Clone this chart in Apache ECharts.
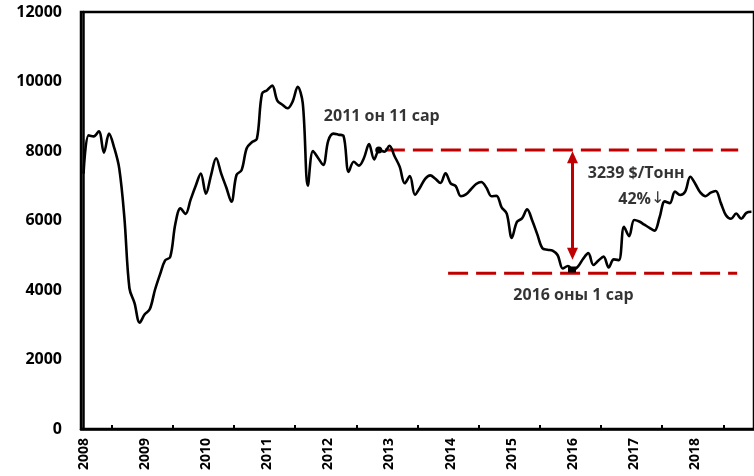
<!DOCTYPE html>
<html><head><meta charset="utf-8">
<script src="https://cdn.jsdelivr.net/npm/echarts@6/dist/echarts.min.js"></script>
<style>html,body{margin:0;padding:0;background:#fff}#c{width:754px;height:476px}</style>
</head><body><div id="c"></div>
<script>
// ---- data ----
const years = [2008, 2009, 2010, 2011, 2012, 2013, 2014, 2015, 2016, 2017, 2018];
const months = ['01','02','03','04','05','06','07','08','09','10','11','12'];
// monthly price, $/ton, Jan 2008 .. Dec 2018
const prices = [
  7350, 8450, 8420, 8570, 7950, 8500, 8100, 7500, 6100, 4050, 3620, 3060,
  3300, 3450, 4000, 4450, 4850, 4950, 5900, 6350, 6190, 6600, 7000, 7350,
  6770, 7300, 7790, 7350, 6950, 6540, 7310, 7450, 8080, 8250, 8350, 9650,
  9750, 9880, 9450, 9330, 9230, 9420, 9850, 9370, 7000, 8000, 7800, 7600,
  8300, 8500, 8470, 8430, 7400, 7690, 7580, 7800, 8200, 7760, 8030, 7980,
  8150, 7850, 7550, 7070, 7280, 6740, 6950, 7200, 7300, 7200, 7080, 7360,
  7070, 6990, 6700, 6750, 6900, 7050, 7110, 6950, 6700, 6710, 6380, 6200,
  5500, 5960, 6060, 6320, 6000, 5600, 5200, 5160, 5130, 5000, 4620, 4690,
  4580, 4680, 4900, 5060, 4720, 4850, 4960, 4650, 4880, 4860, 5820, 5550,
  6015, 5970, 5880, 5790, 5710, 6100, 6550, 6500, 6830, 6735, 6830, 7260,
  7050, 6800, 6700, 6800, 6850, 6500, 6150, 6050, 6200, 6050, 6220, 6250
];
const yTicks = [0, 2000, 4000, 6000, 8000, 10000, 12000];

// annotations (x in month index, y in $/ton)
const upperLevel = 8030;
const lowerLevel = 4480;
const upperSpan = [59.1, 128.4];
const lowerSpan = [71.5, 128.2];
const arrowX = 95.9;
const arrowEnds = [7820, 5040];
const dotPoint = [57.9, 8030];
const lowPoint = [95.8, 4590];
const textLabels = ['2011 он 11 сар', '3239 $/Тонн', '42%{a|↓}', '2016 оны 1 сар'];
const textPos = [[58.5, 9008], [108.4, 7368], [109.4, 6619], [96.1, 3857]];

const categories = [];
years.forEach(y => months.forEach(m => categories.push(y + '-' + m)));

const FONT = '"Open Sans", Lato, sans-serif';
const RED = '#C00000';
const W = 'bold';

const chart = echarts.init(document.getElementById('c'));
chart.setOption({
  animation: false,
  backgroundColor: '#fff',
  grid: { left: 81, top: 12, width: 680, height: 417, show: true, borderColor: '#000', borderWidth: 2.5, containLabel: false },
  xAxis: [
    {
      type: 'category', data: categories, boundaryGap: true,
      axisLine: { lineStyle: { color: '#000', width: 2.5 } },
      axisTick: { show: true, inside: true, length: 4, lineStyle: { color: '#000', width: 2 }, interval: (i) => i % 12 === 6 },
      axisLabel: {
        interval: (i) => i % 12 === 0, rotate: 90, margin: 9,
        formatter: (v) => v.slice(0, 4),
        fontFamily: FONT, fontWeight: W, fontSize: 14, color: '#000'
      },
      splitLine: { show: false }
    },
    { type: 'value', min: -0.5, max: 131.5, show: false }
  ],
  yAxis: {
    type: 'value', min: yTicks[0], max: yTicks[yTicks.length - 1], interval: 2000,
    axisLine: { show: true, lineStyle: { color: '#000', width: 2.5 } },
    axisTick: { show: false },
    splitLine: { show: false },
    axisLabel: { margin: 19, fontFamily: FONT, fontWeight: W, fontSize: 16, color: '#000', formatter: (v) => String(v) }
  },
  series: [
    {
      type: 'line', data: prices, smooth: 0.35, showSymbol: false, symbol: 'none',
      lineStyle: { color: '#000', width: 2.6 }, z: 3
    },
    {
      type: 'line', xAxisIndex: 1, symbol: 'none',
      data: [[upperSpan[0], upperLevel], [upperSpan[1], upperLevel]],
      lineStyle: { color: RED, width: 3, type: [20, 8] }, z: 2,
      markLine: {
        silent: true, symbol: ['triangle', 'triangle'], symbolSize: [11, 12],
        label: { show: false },
        lineStyle: { color: RED, width: 3, type: 'solid' },
        data: [[{ coord: [arrowX, arrowEnds[0]] }, { coord: [arrowX, arrowEnds[1]] }]]
      }
    },
    {
      type: 'line', xAxisIndex: 1, symbol: 'none',
      data: [[lowerSpan[0], lowerLevel], [lowerSpan[1], lowerLevel]],
      lineStyle: { color: RED, width: 3, type: [20, 8] }, z: 2
    },
    {
      type: 'scatter', xAxisIndex: 1, data: [dotPoint], symbol: 'circle', symbolSize: 7,
      itemStyle: { color: '#000', opacity: 1 }, z: 4
    },
    {
      type: 'scatter', xAxisIndex: 1, data: [lowPoint], symbol: 'rect', symbolSize: [8, 6],
      itemStyle: { color: '#000', opacity: 1 }, z: 4
    },
    {
      type: 'scatter', xAxisIndex: 1, symbolSize: 0, z: 5,
      data: textLabels.map((t, i) => ({ value: textPos[i], name: t })),
      label: {
        show: true, position: 'inside', formatter: (p) => p.name,
        fontFamily: FONT, fontWeight: W, fontSize: 16, color: '#000',
        rich: { a: { fontFamily: '"DejaVu Sans", sans-serif', fontWeight: 'normal', fontSize: 16, color: '#000' } }
      }
    }
  ]
});
</script></body></html>
